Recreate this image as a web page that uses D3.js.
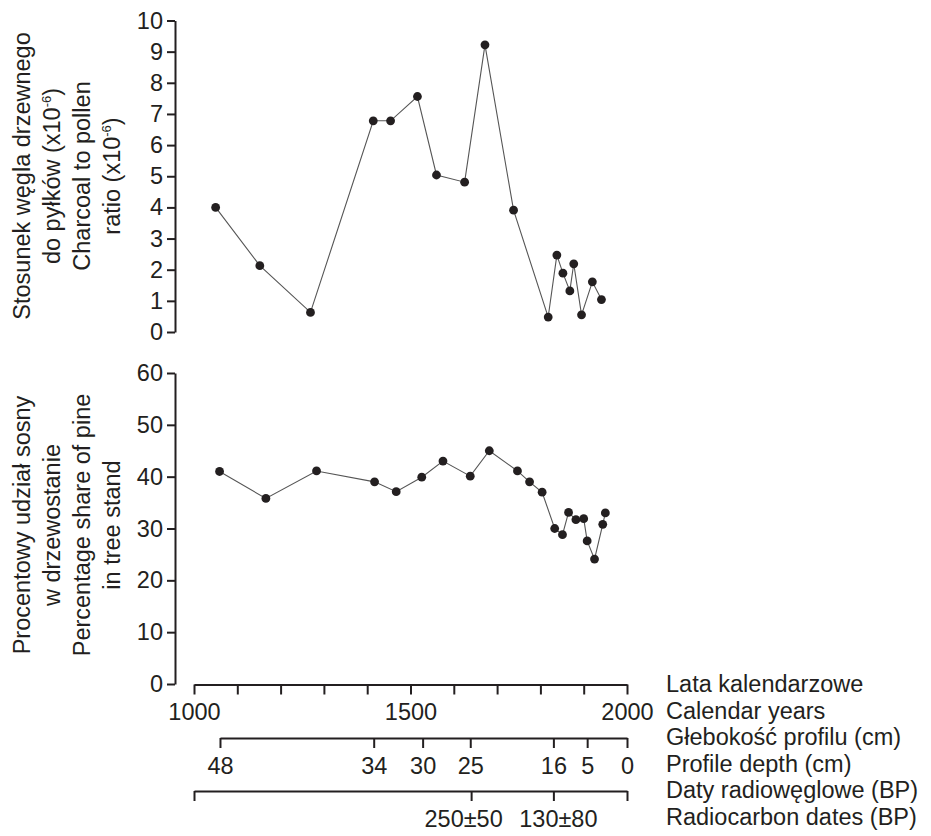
<!DOCTYPE html>
<html>
<head>
<meta charset="utf-8">
<script src="https://cdn.jsdelivr.net/npm/d3@7"></script>
<style>
  body { margin: 0; background: #fff; }
  svg text { font-family: "Liberation Sans", Arial, sans-serif; fill: #231f20; }
</style>
</head>
<body>
<svg id="chart" width="931" height="836"></svg>
<script>
// charcoal to pollen ratio (x10^-6)
const charcoalYears = [1050, 1152, 1269, 1414, 1454, 1516, 1560, 1625, 1672, 1738, 1818, 1838, 1852, 1868, 1877, 1895, 1920, 1941];
const charcoalValues = [4.0, 2.13, 0.63, 6.78, 6.78, 7.56, 5.04, 4.81, 9.22, 3.91, 0.48, 2.47, 1.89, 1.32, 2.19, 0.55, 1.61, 1.04];

// percentage share of pine
const pineYears = [1059, 1166, 1283, 1417, 1467, 1526, 1575, 1638, 1682, 1747, 1775, 1804, 1833, 1851, 1865, 1882, 1900, 1908, 1925, 1944, 1950];
const pineValues = [41.0, 35.8, 41.1, 39.0, 37.1, 39.9, 43.0, 40.1, 45.0, 41.1, 39.0, 37.0, 30.0, 28.8, 33.1, 31.7, 31.9, 27.6, 24.1, 30.8, 33.0];

// axes
const yearTicks = d3.range(1000, 2001, 100);
const yearLabels = [1000, 1500, 2000];
const depthTicks = [48, 34, 30, 25, 16, 5, 0];
const depthYears = [1060, 1415, 1528, 1638, 1830, 1908, 2000];
const c14Years = [1000, 1640, 1830, 2000];
const c14Labels = ["", "250±50", "130±80", ""];

const topTitle = [["Stosunek węgla drzewnego"], ["do pyłków (x10", "-6", ")"], ["Charcoal to pollen"], ["ratio (x10", "-6", ")"]];
const botTitle = [["Procentowy udział sosny"], ["w drzewostanie"], ["Percentage share of pine"], ["in tree stand"]];
const sideLabels = ["Lata kalendarzowe", "Calendar years", "Głebokość profilu (cm)", "Profile depth (cm)", "Daty radiowęglowe (BP)", "Radiocarbon dates (BP)"];

const svg = d3.select("#chart");
const ink = "#231f20";
const fs = 23.5;

const x = d3.scaleLinear().domain([1000, 2000]).range([194, 627]);
const yTop = d3.scaleLinear().domain([0, 10]).range([332, 20.5]);
const yBot = d3.scaleLinear().domain([0, 60]).range([684, 373]);
const xDepth = d3.scaleLinear().domain(depthTicks).range(depthYears.map(x));

function styleAxis(g) {
  g.selectAll("path, line").attr("stroke", ink).attr("stroke-width", 2);
  g.selectAll("text").attr("font-size", fs).attr("fill", ink)
    .attr("font-family", "Liberation Sans, Arial, sans-serif");
}

// y axes
svg.append("g").attr("transform", "translate(175,0)")
  .call(d3.axisLeft(yTop).ticks(10).tickSize(8).tickSizeOuter(0).tickPadding(4))
  .call(styleAxis);
svg.append("g").attr("transform", "translate(175,0)")
  .call(d3.axisLeft(yBot).tickValues(d3.range(0, 61, 10)).tickSize(8).tickSizeOuter(0).tickPadding(4))
  .call(styleAxis);

// calendar years
svg.append("g").attr("transform", "translate(0,684.5)")
  .call(d3.axisBottom(x).tickValues(yearTicks).tickSize(10).tickSizeOuter(0).tickPadding(9)
    .tickFormat(d => yearLabels.includes(d) ? d : ""))
  .call(styleAxis);

// profile depth
svg.append("g").attr("transform", "translate(0,738)")
  .call(d3.axisBottom(xDepth).tickValues(depthTicks).tickSize(10).tickSizeOuter(0).tickPadding(9)
    .tickFormat(d => d))
  .call(styleAxis);

// radiocarbon dates (labels sit slightly apart from their ticks, as in the original)
const c14Shift = [0, -8, 4.5, 0];
svg.append("g").attr("transform", "translate(0,791)")
  .call(d3.axisBottom(x).tickValues(c14Years).tickSize(10).tickSizeOuter(0).tickPadding(9)
    .tickFormat((d, i) => c14Labels[i]))
  .call(styleAxis)
  .call(g => g.selectAll(".tick text").attr("dx", (d, i) => c14Shift[i]));

// series
function drawSeries(years, values, y) {
  const pts = years.map((d, i) => [x(d), y(values[i])]);
  svg.append("path").attr("d", d3.line()(pts))
    .attr("fill", "none").attr("stroke", "#555").attr("stroke-width", 1.1);
  svg.append("g").selectAll("circle").data(pts).join("circle")
    .attr("cx", d => d[0]).attr("cy", d => d[1]).attr("r", 4.4).attr("fill", ink);
}
drawSeries(charcoalYears, charcoalValues, yTop);
drawSeries(pineYears, pineValues, yBot);

// rotated titles
function drawTitle(lines, cy) {
  lines.forEach((parts, i) => {
    const t = svg.append("text")
      .attr("transform", `translate(${30 + i * 30},${cy}) rotate(-90)`)
      .attr("text-anchor", "middle").attr("font-size", fs);
    parts.forEach((p, j) => {
      const s = t.append("tspan").text(p);
      if (j === 1) s.attr("font-size", 13).attr("dy", -9);
      if (j === 2) s.attr("dy", 9);
    });
  });
}
drawTitle(topTitle, 176);
drawTitle(botTitle, 525);

// side labels
const sideBase = [692, 719, 745, 772, 798, 825];
svg.append("g").selectAll("text").data(sideLabels).join("text")
  .attr("x", 666).attr("y", (d, i) => sideBase[i])
  .attr("font-size", fs).text(d => d);
</script>
</body>
</html>
